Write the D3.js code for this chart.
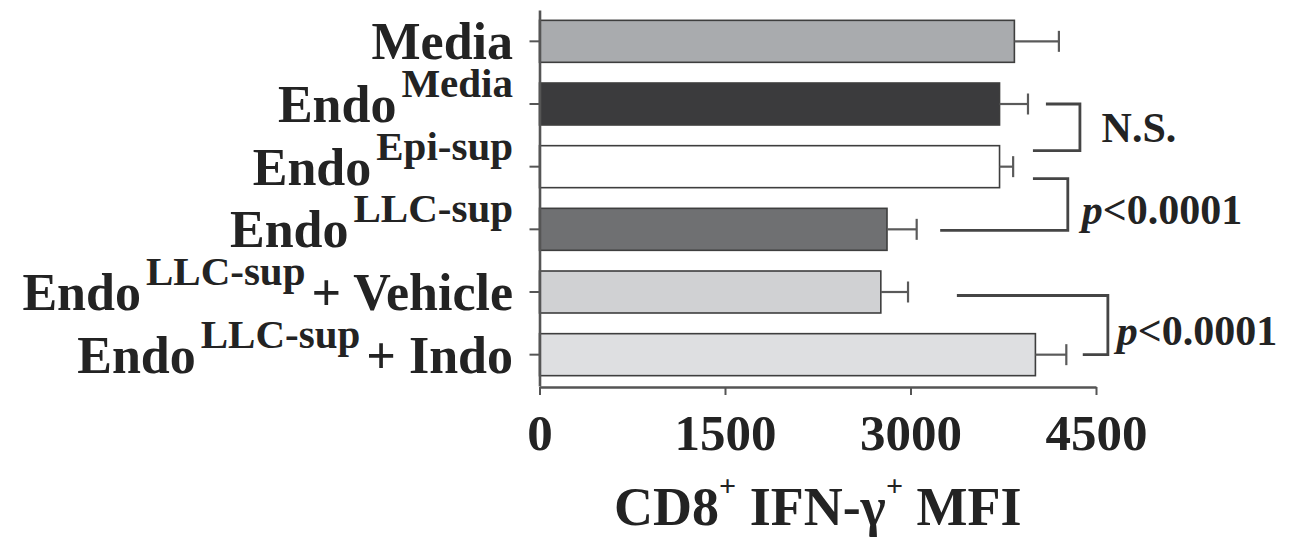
<!DOCTYPE html>
<html>
<head>
<meta charset="utf-8">
<script src="https://cdn.jsdelivr.net/npm/d3@7/dist/d3.min.js"></script>
<style>
  html, body { margin: 0; padding: 0; background: #ffffff; }
  svg { display: block; }
  text { font-family: "Liberation Serif", "Times New Roman", serif; font-weight: bold; fill: #232323; }
</style>
</head>
<body>
<svg id="chart" width="1300" height="538"></svg>
<script>
// Treatment groups, top to bottom
const groups = ["Media", "EndoMedia", "EndoEpiSup", "EndoLLCSup", "EndoLLCSupVehicle", "EndoLLCSupIndo"];
const labelMain = ["Media", "Endo", "Endo", "Endo", "Endo", "Endo"];
const labelSup = ["", "Media", "Epi-sup", "LLC-sup", "LLC-sup", "LLC-sup"];
const labelTail = ["", "", "", "", "+ Vehicle", "+ Indo"];

// CD8+ IFN-γ+ mean fluorescence intensity (mean and error)
const meanMFI = [3840, 3720, 3720, 2810, 2760, 4010];
const errMFI = [360, 230, 110, 240, 220, 250];

// Axis ticks
const xTicks = [0, 1500, 3000, 4500];

// Pairwise comparisons drawn as brackets
const compFrom = [1, 2, 4];
const compTo = [2, 3, 5];
const compLabel = ["N.S.", "p<0.0001", "p<0.0001"];

// Fill colours per group
const fills = ["#a9abae", "#3b3b3d", "#ffffff", "#6f7072", "#d0d1d3", "#dedfe1"];

const svg = d3.select("#chart");
const axisX0 = 539.5, axisX1 = 1096;
const bandTop = 10, bandBottom = 386;

const x = d3.scaleLinear().domain([0, 4500]).range([axisX0, axisX1]);
const y = d3.scaleBand().domain(groups).range([bandTop, bandBottom])
  .paddingInner(0.33).paddingOuter(0.165);
const color = d3.scaleOrdinal().domain(groups).range(fills);
const cy = i => y(groups[i]) + y.bandwidth() / 2;

// Bars
svg.append("g").selectAll("rect").data(groups).join("rect")
  .attr("x", x(0))
  .attr("y", d => y(d))
  .attr("width", (d, i) => x(meanMFI[i]) - x(0))
  .attr("height", y.bandwidth())
  .attr("fill", d => color(d))
  .attr("stroke", "#3e3e3e")
  .attr("stroke-width", 1.6);

// Error bars
const eb = svg.append("g").attr("stroke", "#5a5a5a").attr("stroke-width", 2.2).attr("fill", "none");
groups.forEach((g, i) => {
  const c = cy(i);
  eb.append("line").attr("x1", x(meanMFI[i])).attr("x2", x(meanMFI[i] + errMFI[i])).attr("y1", c).attr("y2", c);
  eb.append("line").attr("x1", x(meanMFI[i] + errMFI[i])).attr("x2", x(meanMFI[i] + errMFI[i]))
    .attr("y1", c - 10.5).attr("y2", c + 10.5);
});

// X axis
const xAxis = d3.axisBottom(x).tickValues(xTicks).tickSize(8).tickSizeOuter(0).tickPadding(19)
  .tickFormat(d3.format("d"));
const gx = svg.append("g").attr("transform", `translate(0,${bandBottom + 1})`).call(xAxis);
gx.select(".domain").attr("stroke", "#555").attr("stroke-width", 2.6);
gx.selectAll(".tick line").attr("stroke", "#555").attr("stroke-width", 2);
gx.selectAll(".tick text").attr("font-size", 51).attr("dy", "0.71em")
  .attr("font-family", "Liberation Serif").attr("font-weight", "bold").attr("fill", "#232323");

// Y axis
const yAxis = d3.axisLeft(y).tickSize(10).tickSizeOuter(0).tickFormat("");
const gy = svg.append("g").attr("transform", `translate(${axisX0},0)`).call(yAxis);
gy.select(".domain").attr("stroke", "#555").attr("stroke-width", 2.6);
gy.selectAll(".tick line").attr("stroke", "#555").attr("stroke-width", 2);

// Group labels with superscripts
const labels = svg.append("g");
groups.forEach((g, i) => {
  const t = labels.append("text")
    .attr("x", 513)
    .attr("y", cy(i) + 18)
    .attr("text-anchor", "end")
    .attr("font-size", 52);
  t.append("tspan").text(labelMain[i]);
  if (labelSup[i]) {
    t.append("tspan").attr("dy", -25).attr("dx", 5).attr("font-size", 41).text(labelSup[i]);
  }
  if (labelTail[i]) {
    t.append("tspan").attr("dy", 25).attr("dx", 6).text(labelTail[i]);
  }
});

// X axis title
const title = svg.append("text")
  .attr("x", (axisX0 + axisX1) / 2)
  .attr("y", 525)
  .attr("text-anchor", "middle")
  .attr("font-size", 54);
title.append("tspan").text("CD8");
title.append("tspan").attr("dy", -29).attr("font-size", 30).text("+");
title.append("tspan").attr("dy", 29).text(" IFN-γ");
title.append("tspan").attr("dy", -29).attr("font-size", 30).text("+");
title.append("tspan").attr("dy", 29).text(" MFI");

// Comparison brackets: arm starts and vertical in MFI units, arm offsets in px
const bracketGeom = [
  { xTop: 4095, xBot: 3990, xV: 4370, dyTop: 0, dyBot: -16, tx: 4545, tyOff: 38 },
  { xTop: 3990, xBot: 3240, xV: 4272, dyTop: 12, dyBot: 1, tx: 4385, tyOff: 45 },
  { xTop: 3375, xBot: 4393, xV: 4596, dyTop: 3.5, dyBot: 0, tx: 4668, tyOff: 49 }
];
const br = svg.append("g");
compFrom.forEach((a, k) => {
  const b = compTo[k], gm = bracketGeom[k];
  const y1 = cy(a) + gm.dyTop, y2 = cy(b) + gm.dyBot;
  br.append("path")
    .attr("d", `M${x(gm.xTop)},${y1}H${x(gm.xV)}V${y2}H${x(gm.xBot)}`)
    .attr("fill", "none").attr("stroke", "#454545").attr("stroke-width", 2.8);
  const t = br.append("text").attr("x", x(gm.tx)).attr("y", y1 + gm.tyOff).attr("font-size", 42);
  if (compLabel[k].startsWith("p")) {
    t.append("tspan").attr("font-style", "italic").text("p");
    t.append("tspan").text(compLabel[k].slice(1));
  } else {
    t.text(compLabel[k]);
  }
});
</script>
</body>
</html>
